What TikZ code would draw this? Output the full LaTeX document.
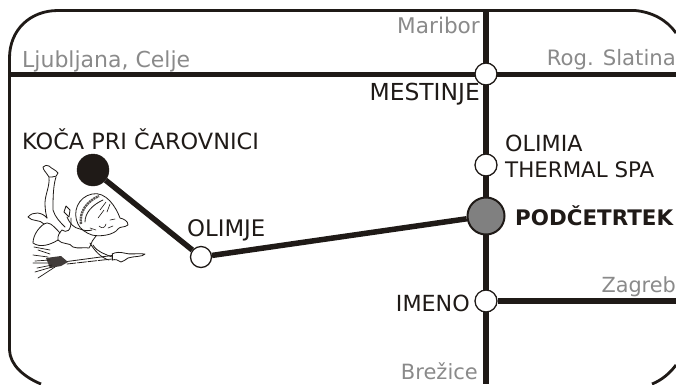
\documentclass[tikz,border=0pt]{standalone}
\usepackage{fontspec}
\setmainfont{DejaVu Sans}
\definecolor{ink}{HTML}{1F1A17}
\definecolor{soft}{HTML}{8A8A8A}
\definecolor{hub}{HTML}{808080}
\tikzset{
 road/.style={draw=ink,line width=5.5pt},
 stopnode/.style={circle,draw=ink,fill=white,line width=1.3pt,minimum size=21pt,inner sep=0pt},
 lbl/.style={text=ink,inner sep=0pt},
 dest/.style={text=soft,inner sep=0pt},
 sz/.style={font=\fontsize{#1pt}{24pt}\selectfont},
 sk/.style={draw=ink,line width=0.8pt,line join=round,line cap=round}
}
\begin{document}
\begin{tikzpicture}[x=1pt,y=-1pt]
\useasboundingbox (0,0) rectangle (676,384);
\fill[white] (0,0) rectangle (676,384);
% frame
\draw[draw=ink,line width=2.8pt] (635,10.5) .. controls (652,12) and (667,20) .. (676,33);
\draw[draw=ink,line width=2.8pt] (635,10.5) -- (58,10.5) .. controls (30,10.5) and (9.5,30) .. (9.5,58) -- (9.5,350) .. controls (10,365) and (24,377) .. (41,384);
\draw[draw=ink,line width=2.8pt] (652,384) .. controls (662,380) and (670,373) .. (676,365);
% nodes
\coordinate (wl) at (9,74.5);
\coordinate (er) at (676,74.5);
\coordinate (top) at (486,11);
\coordinate (bot) at (486,384);
\coordinate (zr) at (676,301);
\draw[road] (wl) -- (er);
\draw[road] (top) -- (bot);
\node[stopnode,minimum size=22pt] (mest) at (486,74) {};
\node[stopnode,minimum size=22pt] (ther) at (486,165) {};
\node[stopnode,minimum size=22pt] (imen) at (486,301) {};
\node[circle,draw=ink,fill=hub,line width=2pt,minimum size=37pt,inner sep=0pt] (pod) at (486,216) {};
\node[circle,draw=ink,fill=ink,minimum size=32pt,inner sep=0pt] (koca) at (93,170) {};
\node[stopnode] (olim) at (201,257) {};
\draw[road] (koca) -- (olim);
\draw[road] (olim) -- (pod);
\draw[road] (imen) -- (zr);
% labels
\node[dest,sz=22,anchor=base west] (t1) at (22,67) {Ljubljana, Celje};
\node[dest,sz=21.6,anchor=base east] (t2) at (480,33) {Maribor};
\node[dest,sz=21.2,anchor=base east] (t3) at (676,65) {Rog. Slatina};
\node[dest,sz=20.8,anchor=base east] (t4) at (676,292) {Zagreb};
\node[dest,sz=21,anchor=base east] (t5) at (478,379) {Brežice};
\node[lbl,sz=23.4,anchor=base east] (t6) at (480,100) {MESTINJE};
\node[lbl,sz=22.2,anchor=base west] (t7) at (505,151) {OLIMIA};
\node[lbl,sz=21.4,anchor=base west] (t8) at (505,177) {THERMAL SPA};
\node[lbl,anchor=base west,font=\fontsize{21.4pt}{24pt}\selectfont\bfseries] (t9) at (515,225) {PODČETRTEK};
\node[lbl,sz=22.4,anchor=base west] (t10) at (22,149) {KOČA PRI ČAROVNICI};
\node[lbl,sz=22.8,anchor=base west] (t11) at (187,236) {OLIMJE};
\node[lbl,sz=22.2,anchor=base east] (t12) at (470,311) {IMENO};
% witch
% raised foot and leg
\draw[sk] (49,177) .. controls (46,172) and (43,170) .. (43,167) .. controls (45,165) and (47,165) .. (49,166) .. controls (52,169) and (56,170) .. (58,173) .. controls (58,176) and (55,177) .. (52,177) -- (49,177);
\draw[sk] (49,177) .. controls (50,186) and (45,195) .. (45,203) .. controls (45,210) and (46,214) .. (47,218);
\draw[sk] (56,177) .. controls (53,186) and (53,200) .. (53,210) .. controls (55,217) and (60,222) .. (65,227);
% lower foot
\draw[sk] (47,218) .. controls (42,212) and (33,211) .. (28,217) .. controls (32,222) and (40,219) .. (44,224) .. controls (38,228) and (33,236) .. (33,243) .. controls (40,248) and (50,245) .. (58,240);
\draw[sk] (44,224) .. controls (48,221) and (52,224) .. (60,233);
% belly / clothes
\draw[sk] (58,240) .. controls (57,236) and (60,232) .. (62,230) .. controls (66,233) and (72,232) .. (71,218);
\draw[sk] (58,240) .. controls (62,245) and (70,242) .. (73,247) .. controls (78,249) and (85,247) .. (89,248) .. controls (91,245) and (92,241) .. (93,240) -- (96,236);
\draw[sk] (93,245) .. controls (97,252) and (105,254) .. (112,257);
\draw[sk] (90,243) .. controls (94,250) and (101,258) .. (109,260);
% raised hand
\draw[sk] (64,212) -- (66,206) -- (70,210) -- (69,217) -- (64,212);
\draw[sk] (67,217) .. controls (70,224) and (74,228) .. (80,229) .. controls (85,231) and (88,231) .. (92,230);
% head
\draw[sk] (78,224) .. controls (72,212) and (78,197) .. (92,194) .. controls (106,191) and (116,207) .. (120,218) .. controls (124,219) and (128,221) .. (128,225) .. controls (124,228) and (120,226) .. (118,229) .. controls (114,235) and (100,237) .. (92,235) .. controls (86,233) and (80,229) .. (78,224);
\draw[ink!75,line width=2.4pt,dash pattern=on 2pt off 0.7pt] (81,224) .. controls (79,212) and (87,201) .. (99,196);
\draw[sk] (85,222) .. controls (85,213) and (92,205) .. (103,200);
\draw[sk,line width=0.6pt] (100,210) -- (106,202) (98,218) -- (104,210) (107,212) -- (110,204) (99,226) .. controls (102,229) and (105,228) .. (106,224) (110,220) -- (115,219) (108,228) -- (113,226) (90,228) -- (96,230);
% sleeve and hand holding broom
\draw[sk] (112,254) -- (112,260);
\draw[sk] (112,254) .. controls (116,252) and (120,252) .. (124,253) .. controls (130,255) and (138,253) .. (145,254) .. controls (143,257) and (134,256) .. (128,258) .. controls (125,259) and (124,262) .. (121,262) .. controls (118,260) and (116,259) .. (112,260);
% broom
\draw[sk] (67,261.5) -- (112,255.5);
\draw[sk,dash pattern=on 9pt off 1.5pt] (67,264) -- (112,259);
\fill[ink!85] (46,258) -- (61,256) -- (68,262) -- (61,266) -- (50,268) -- cycle;
\draw[sk,line width=0.7pt] (33,255) -- (48,257) (35,261) -- (50,260) (33,263) -- (48,263) (37,268) -- (52,265) (35,272) -- (52,267) (38,278) -- (55,267);
\draw[sk,line width=0.7pt] (34,247) -- (50,250) (38,250) -- (50,254);
\end{tikzpicture}
\end{document}
